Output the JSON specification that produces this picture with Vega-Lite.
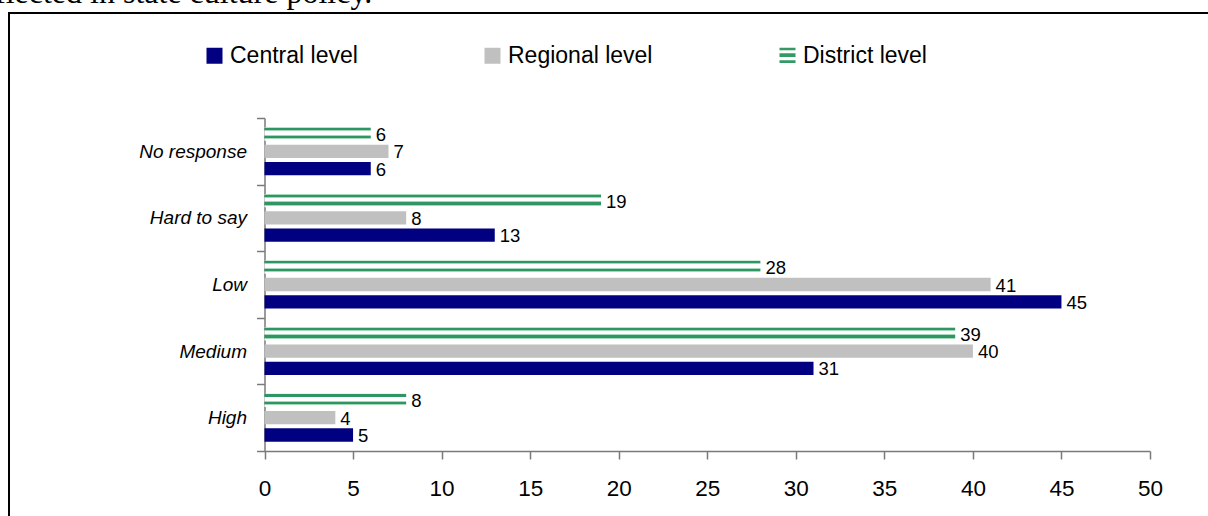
{
  "$schema": "https://vega.github.io/schema/vega-lite/v6.json",
  "width": 1210,
  "height": 515,
  "autosize": {"type": "none"},
  "padding": {"left": 9, "top": 13, "right": -11, "bottom": -12},
  "background": "white",
  "title": {
    "text": "flected in state culture policy.",
    "orient": "top",
    "anchor": "start",
    "frame": "group",
    "baseline": "alphabetic",
    "offset": -31,
    "dx": -14,
    "font": "Liberation Serif",
    "fontSize": 32,
    "fontWeight": "normal",
    "color": "black"
  },
  "config": {
    "view": {"stroke": "black", "strokeWidth": 2},
    "font": "Liberation Sans",
    "axis": {"grid": false}
  },
  "data": {
    "values": [
      {"rating": "No response", "level": "District level", "percent": 6},
      {"rating": "No response", "level": "Regional level", "percent": 7},
      {"rating": "No response", "level": "Central level", "percent": 6},
      {"rating": "Hard to say", "level": "District level", "percent": 19},
      {"rating": "Hard to say", "level": "Regional level", "percent": 8},
      {"rating": "Hard to say", "level": "Central level", "percent": 13},
      {"rating": "Low", "level": "District level", "percent": 28},
      {"rating": "Low", "level": "Regional level", "percent": 41},
      {"rating": "Low", "level": "Central level", "percent": 45},
      {"rating": "Medium", "level": "District level", "percent": 39},
      {"rating": "Medium", "level": "Regional level", "percent": 40},
      {"rating": "Medium", "level": "Central level", "percent": 31},
      {"rating": "High", "level": "District level", "percent": 8},
      {"rating": "High", "level": "Regional level", "percent": 4},
      {"rating": "High", "level": "Central level", "percent": 5}
    ]
  },
  "encoding": {
    "y": {
      "field": "rating",
      "type": "nominal",
      "sort": ["No response", "Hard to say", "Low", "Medium", "High"],
      "scale": {"range": [105, 438], "paddingInner": 0, "paddingOuter": 0},
      "axis": {
        "title": null,
        "orient": "left",
        "offset": -255.5,
        "domainColor": "#7a7a7a",
        "domainWidth": 1.5,
        "tickColor": "#7a7a7a",
        "tickWidth": 1.5,
        "tickSize": 8,
        "tickBand": "extent",
        "labelFont": "Liberation Sans",
        "labelFontSize": 19,
        "labelFontStyle": "italic",
        "labelColor": "black",
        "labelPadding": 10
      }
    },
    "yOffset": {
      "field": "level",
      "type": "nominal",
      "scale": {
        "domain": ["District level", "Regional level", "Central level"],
        "paddingInner": 0.23,
        "paddingOuter": 0.54
      }
    },
    "x": {
      "field": "percent",
      "type": "quantitative",
      "scale": {"domain": [0, 50], "range": [255.5, 1141], "nice": false},
      "axis": {
        "title": null,
        "orient": "bottom",
        "offset": -77,
        "values": [0, 5, 10, 15, 20, 25, 30, 35, 40, 45, 50],
        "domainColor": "#7a7a7a",
        "domainWidth": 1.5,
        "tickColor": "#7a7a7a",
        "tickWidth": 1.5,
        "tickSize": 8,
        "labelFont": "Liberation Sans",
        "labelFontSize": 22.5,
        "labelColor": "black",
        "labelPadding": 18,
        "labelFlush": false
      }
    }
  },
  "layer": [
    {
      "mark": {"type": "bar"},
      "encoding": {
        "color": {
          "field": "level",
          "type": "nominal",
          "scale": {
            "domain": ["Central level", "Regional level", "District level"],
            "range": ["#000080", "#c0c0c0", "#339966"]
          },
          "condition": {
            "test": "datum.level === 'District level'",
            "value": {
              "gradient": "linear",
              "x1": 0, "y1": 0, "x2": 0, "y2": 1,
              "stops": [
                {"offset": 0, "color": "#a3d9ba"},
                {"offset": 0.05, "color": "#a3d9ba"},
                {"offset": 0.05, "color": "#2f9663"},
                {"offset": 0.21, "color": "#2f9663"},
                {"offset": 0.21, "color": "#a3d9ba"},
                {"offset": 0.28, "color": "#a3d9ba"},
                {"offset": 0.28, "color": "#ffffff"},
                {"offset": 0.55, "color": "#ffffff"},
                {"offset": 0.55, "color": "#a3d9ba"},
                {"offset": 0.62, "color": "#a3d9ba"},
                {"offset": 0.62, "color": "#2f9663"},
                {"offset": 0.8, "color": "#2f9663"},
                {"offset": 0.8, "color": "#a3d9ba"},
                {"offset": 0.87, "color": "#a3d9ba"},
                {"offset": 0.87, "color": "#ffffff"},
                {"offset": 1, "color": "#ffffff"}
              ]
            }
          },
          "legend": {
            "title": null,
            "orient": "none",
            "legendX": 194,
            "legendY": 31,
            "direction": "horizontal",
            "padding": 0,
            "symbolType": "square",
            "symbolSize": 256,
            "symbolStrokeWidth": 0,
            "labelFont": "Liberation Sans",
            "labelFontSize": 23,
            "labelColor": "black",
            "labelOffset": 4,
            "labelLimit": 300,
            "columnPadding": 123,
            "encode": {
              "symbols": {
                "update": {
                  "shape": [
                    {"test": "datum.value === 'District level'", "value": "M-1,-1H1V-0.7H-1Z M-1,-0.3H1V0.15H-1Z M-1,0.55H1V0.9H-1Z"},
                    {"value": "square"}
                  ]
                }
              }
            }
          }
        }
      }
    },
    {
      "mark": {
        "type": "text",
        "align": "left",
        "baseline": "middle",
        "dx": 5,
        "dy": 1,
        "font": "Liberation Sans",
        "fontSize": 18.5,
        "color": "black"
      },
      "encoding": {
        "text": {"field": "percent", "type": "quantitative"}
      }
    }
  ]
}
